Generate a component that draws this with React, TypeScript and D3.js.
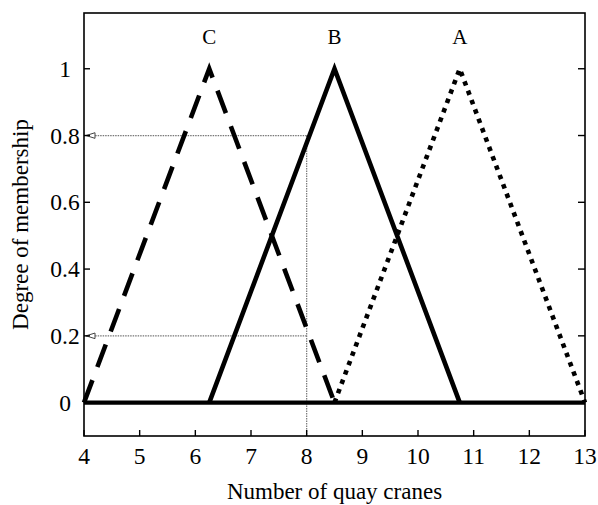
import React from "react";
import * as d3 from "d3";

const xTicks = [4, 5, 6, 7, 8, 9, 10, 11, 12, 13];
const yTicks = [0, 0.2, 0.4, 0.6, 0.8, 1];
const yTickLabels = ["0", "0.2", "0.4", "0.6", "0.8", "1"];

const setNames = ["C", "B", "A"];
const setLeft = [4, 6.25, 8.5];
const setPeak = [6.25, 8.5, 10.75];
const setRight = [8.5, 10.75, 13];
const setStyles = ["dashed", "solid", "dotted"];

const guideX = 8;
const guideLevels = [0.8, 0.2];

const xTitle = "Number of quay cranes";
const yTitle = "Degree of membership";

const W = 598;
const H = 505;
const L = 84, R = 585, T = 13, B = 436;

export default function App() {
  const x = d3.scaleLinear().domain([4, 13]).range([L, R]);
  const y = d3.scaleLinear().domain([-0.1, 1.167]).range([B, T]);
  const line = d3
    .line<[number, number]>()
    .x((d) => x(d[0]))
    .y((d) => y(d[1]));

  const font = "'Liberation Serif', 'Times New Roman', serif";
  const dash: Record<string, string | undefined> = {
    dashed: "24,14",
    solid: undefined,
    dotted: "4.5,5.5",
  };
  const guideColor = "#777";

  return (
    <svg
      width={W}
      height={H}
      style={{ position: "absolute", left: 0, top: 0, background: "#fff" }}
      fontFamily={font}
    >
      <rect x={0} y={0} width={W} height={H} fill="#fff" />
      {guideLevels.map((lv, i) => (
        <g key={"g" + i}>
          <line
            x1={x(guideX)}
            x2={x(4) + 11}
            y1={y(lv)}
            y2={y(lv)}
            stroke={guideColor}
            strokeWidth={1.2}
            strokeDasharray="1.5,1"
          />
          <path
            d={`M${x(4) + 11},${y(lv) - 2.8} L${x(4) + 11},${y(lv) + 2.8} L${x(4) + 2},${y(lv)} Z`}
            fill="#fff"
            stroke="#444"
            strokeWidth={1}
          />
        </g>
      ))}
      <line
        x1={x(guideX)}
        x2={x(guideX)}
        y1={y(d3.max(guideLevels) as number)}
        y2={B}
        stroke={guideColor}
        strokeWidth={1.2}
        strokeDasharray="1.5,1"
      />
      <path
        d={line([
          [4, 0],
          [13, 0],
        ]) as string}
        fill="none"
        stroke="#000"
        strokeWidth={4.3}
      />
      {setNames.map((n, i) => (
        <path
          key={n}
          d={line([
            [setLeft[i], 0],
            [setPeak[i], 1],
            [setRight[i], 0],
          ]) as string}
          fill="none"
          stroke="#000"
          strokeWidth={4.6}
          strokeDasharray={dash[setStyles[i]]}
          strokeLinejoin="miter"
        />
      ))}
      {setNames.map((n, i) => (
        <text
          key={"t" + n}
          x={x(setPeak[i])}
          y={44}
          textAnchor="middle"
          fontSize={21}
        >
          {n}
        </text>
      ))}
      <rect x={L} y={T} width={R - L} height={B - T} fill="none" stroke="#000" strokeWidth={1.6} />
      {xTicks.map((t) => (
        <g key={"x" + t}>
          <line x1={x(t)} x2={x(t)} y1={B} y2={B - 6} stroke="#000" strokeWidth={1.4} />
          <text x={x(t)} y={464} textAnchor="middle" fontSize={23.5}>
            {t}
          </text>
        </g>
      ))}
      {yTicks.map((t, i) => (
        <g key={"y" + t}>
          <line x1={L} x2={L + 6} y1={y(t)} y2={y(t)} stroke="#000" strokeWidth={1.4} />
          <line x1={R} x2={R - 7} y1={y(t)} y2={y(t)} stroke="#000" strokeWidth={1.4} />
          <text x={65} y={y(t) + 8} textAnchor="middle" fontSize={23.5}>
            {yTickLabels[i]}
          </text>
        </g>
      ))}
      <text x={(L + R) / 2} y={499} textAnchor="middle" fontSize={23}>
        {xTitle}
      </text>
      <text
        transform={`translate(28,${(T + B) / 2}) rotate(-90)`}
        textAnchor="middle"
        fontSize={23}
      >
        {yTitle}
      </text>
    </svg>
  );
}
